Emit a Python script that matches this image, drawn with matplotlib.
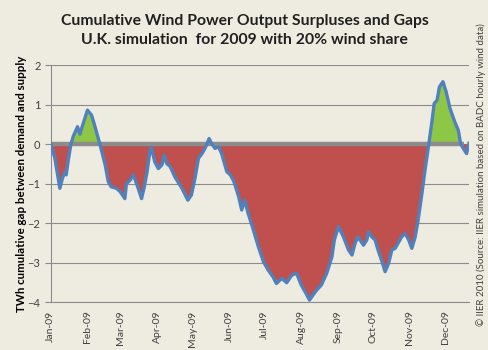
import numpy as np
import matplotlib.pyplot as plt

# day of year (0 = 1 Jan 2009) and cumulative gap in TWh
days = [0, 3.4, 7.6, 10, 12, 13, 15, 17, 19, 22.6, 24.6, 26.5, 31, 34.5, 37, 41.5,
        46, 48.6, 51, 55.6, 58.5, 62.7, 64, 67, 69.8, 72.6, 76.8, 79, 81.5, 84, 85,
        88, 91, 94, 96, 98, 101, 105, 111, 116, 119, 122, 125, 128, 130.5, 134, 136,
        139, 142, 144.6, 149, 152, 155, 159, 161.6, 164, 167, 171.5, 175.7, 180, 184,
        188, 191, 195.5, 199.7, 204, 208, 212, 216, 219, 222, 225, 229, 233.6, 238,
        240, 243.5, 247.7, 252, 255, 257.6, 260, 264.7, 267.5, 269, 271.8, 274.6,
        277, 280, 283, 286, 288.7, 291.5, 294, 297, 300, 303, 305.6, 308.5, 311,
        314, 317, 320, 322.6, 324.6, 327, 329, 332, 334.7, 338, 342, 345, 347, 350,
        352, 354]
gap = [0, -0.36, -1.12, -0.85, -0.70, -0.78, -0.36, 0.0, 0.2, 0.44, 0.25, 0.44, 0.86,
       0.73, 0.48, 0.0, -0.53, -0.95, -1.08, -1.12, -1.2, -1.38, -1.0, -0.92, -0.78,
       -1.0, -1.38, -1.1, -0.7, -0.15, -0.08, -0.45, -0.62, -0.53, -0.28, -0.49,
       -0.57, -0.83, -1.12, -1.42, -1.29, -0.87, -0.36, -0.24, -0.11, 0.14, 0.02,
       -0.11, -0.07, -0.24, -0.70, -0.78, -0.95, -1.33, -1.67, -1.42, -1.75, -2.18,
       -2.6, -2.98, -3.19, -3.36, -3.53, -3.4, -3.51, -3.32, -3.27, -3.57, -3.78,
       -3.95, -3.82, -3.7, -3.57, -3.27, -2.85, -2.43, -2.09, -2.35, -2.68, -2.81,
       -2.51, -2.35, -2.56, -2.43, -2.22, -2.35, -2.43, -2.68, -2.94, -3.23, -3.02,
       -2.68, -2.64, -2.51, -2.35, -2.26, -2.43, -2.64, -2.35, -1.92, -1.29, -0.62,
       0.0, 0.56, 1.03, 1.11, 1.45, 1.58, 1.32, 0.9, 0.56, 0.35, 0.0, -0.15, -0.24,
       0.02]

month_starts = [0, 31, 59, 90, 120, 151, 181, 212, 243, 273, 304, 334]
month_labels = ['Jan-09', 'Feb-09', 'Mar-09', 'Apr-09', 'May-09', 'Jun-09',
                'Jul-09', 'Aug-09', 'Sep-09', 'Oct-09', 'Nov-09', 'Dec-09']

plt.rcParams['font.family'] = ['Lato', 'DejaVu Sans']
bg = '#EEECE1'

fig = plt.figure(figsize=(4.89, 3.5), dpi=100, facecolor=bg)
ax = fig.add_axes([0.104, 0.137, 0.855, 0.677], facecolor=bg)

x = np.array(days)
y = np.array(gap)
ax.fill_between(x, y, 0, where=y < 0, interpolate=True, color='#C0504D', lw=0, zorder=2)
ax.fill_between(x, y, 0, where=y > 0, interpolate=True, color='#8EC746', lw=0, zorder=2)
ax.plot([x[0], 350], [0, 0], color='#8C8C8C', lw=3.2, zorder=3, solid_capstyle='butt')
ax.plot(x, y, color='#4F81BD', lw=2.4, zorder=4)

ax.set_xlim(0, 354)
ax.set_ylim(-4, 2)
ax.set_yticks(range(-4, 3))
ax.yaxis.grid(True, color='#8C8C8C', lw=0.8)
ax.set_axisbelow(True)
ax.set_xticks(month_starts)
ax.set_xticklabels(month_labels, rotation=90, fontsize=7.5, color='#404040')
ax.tick_params(axis='x', length=0, pad=6)
ax.tick_params(axis='y', length=4, color='#8C8C8C', labelsize=8, labelcolor='#404040')
for s in ['top', 'right']:
    ax.spines[s].set_visible(False)
ax.spines['left'].set_color('#8C8C8C')
ax.spines['bottom'].set_color('#8C8C8C')

ax.set_ylabel('TWh cumulative gap between demand and supply', fontsize=8.3,
              fontweight='bold', labelpad=0)

fig.text(0.5, 0.96, 'Cumulative Wind Power Output Surpluses and Gaps\n'
         'U.K. simulation  for 2009 with 20% wind share',
         ha='center', va='top', fontsize=11.3, fontweight='bold', linespacing=1.45,
         color='#202020')
fig.text(0.983, 0.5, '\u00a9 IIER 2010 (Source: IIER simulation based on BADC hourly wind data)',
         rotation=90, ha='center', va='center', fontsize=7, color='#404040')

fig.savefig('out.png', dpi=100, facecolor=bg)
